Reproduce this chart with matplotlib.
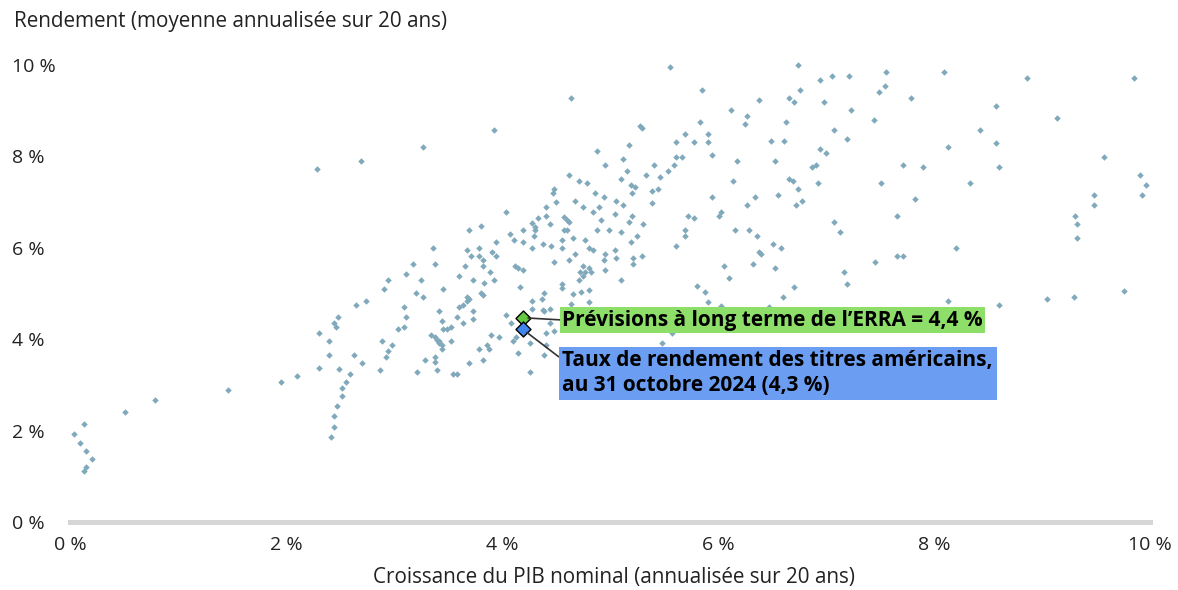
import matplotlib
matplotlib.use("Agg")
import matplotlib.pyplot as plt

plt.rcParams['font.family'] = ['Open Sans', 'DejaVu Sans']

# nominal GDP growth (20y annualised, %) and returns (20y annualised, %)
gdp_growth = [
    0.04, 0.13, 0.09, 0.15, 0.20, 0.15, 0.13, 0.51, 0.79, 1.46,
    1.95, 2.10, 2.42, 2.44, 2.44, 2.47, 2.52, 2.52, 2.56, 2.59,
    2.49, 2.31, 2.31, 2.40, 2.40, 2.44, 2.46, 2.48, 2.65, 2.74,
    2.63, 2.70, 2.87, 2.93, 2.94, 2.98, 2.89, 3.04, 3.09, 3.11,
    3.09, 3.21, 3.29, 3.38, 3.38, 3.40, 3.55, 3.58, 3.69, 3.82,
    3.79, 3.88, 3.86, 3.90, 3.97, 4.04, 3.53, 3.44, 3.42, 3.34,
    3.38, 3.40, 3.42, 3.44, 3.45, 3.49, 3.53, 3.44, 3.42, 3.58,
    3.64, 3.60, 3.64, 3.73, 3.73, 3.68, 4.10, 4.13, 4.08, 4.15,
    4.26, 4.26, 4.39, 4.41, 4.28, 4.38, 4.48, 4.44, 4.41, 4.39,
    4.44, 3.27, 2.69, 2.29, 4.48, 4.47, 4.50, 4.41, 4.04, 4.41,
    4.33, 4.28, 4.31, 4.44, 3.69, 3.81, 4.07, 4.19, 4.31, 4.30,
    4.11, 4.19, 3.94, 4.38, 4.45, 4.28, 3.36, 3.68, 3.79, 3.71,
    3.79, 3.91, 3.94, 3.82, 4.48, 3.38, 3.18, 3.66, 3.82, 4.12,
    4.15, 4.19, 3.89, 3.11, 3.60, 3.73, 3.83, 3.93, 2.94, 3.25,
    2.91, 3.45, 4.17, 3.20, 3.27, 3.81, 3.82, 3.68, 3.69, 4.39,
    4.37, 4.28, 5.56, 5.85, 4.64, 3.93, 6.12, 6.27, 6.25, 5.83,
    5.28, 5.30, 5.69, 5.91, 5.61, 5.78, 5.91, 5.18, 4.88, 5.94,
    5.61, 5.67, 5.12, 6.18, 4.95, 5.41, 5.59, 5.16, 5.54, 4.62,
    5.33, 5.46, 5.10, 4.71, 4.79, 6.14, 5.19, 5.23, 5.39, 5.44,
    5.20, 4.86, 4.94, 5.94, 4.68, 5.06, 5.12, 5.39, 6.27, 4.75,
    4.90, 4.84, 5.05, 5.20, 5.72, 5.78, 6.03, 6.01, 4.57, 4.60,
    4.62, 4.92, 5.18, 5.31, 4.57, 4.60, 4.88, 4.99, 5.10, 5.69,
    5.69, 6.16, 6.29, 4.66, 5.25, 4.56, 4.77, 5.19, 4.56, 4.81,
    4.84, 5.05, 5.61, 4.68, 4.62, 4.95, 4.94, 5.06, 5.21, 5.30,
    5.21, 4.75, 4.77, 4.81, 4.72, 4.75, 4.82, 4.95, 6.06, 6.10,
    5.10, 4.71, 4.56, 4.56, 4.66, 4.73, 4.81, 4.64, 4.81, 5.81,
    5.88, 5.91, 6.03, 5.57, 5.48, 6.74, 6.94, 7.06, 7.21, 7.56,
    8.09, 8.86, 9.85, 7.55, 7.49, 6.76, 6.38, 6.66, 6.70, 6.98,
    7.79, 7.23, 8.57, 6.63, 7.44, 9.14, 7.07, 8.43, 6.49, 6.61,
    7.19, 8.57, 8.13, 6.94, 7.00, 6.53, 6.87, 6.91, 7.71, 7.90,
    8.60, 9.57, 6.66, 6.69, 6.93, 7.51, 8.33, 6.74, 9.91, 9.96,
    9.93, 6.34, 6.56, 6.78, 6.72, 7.82, 9.48, 9.48, 7.66, 7.07,
    7.13, 9.31, 9.32, 9.32, 6.36, 6.51, 6.58, 6.38, 6.40, 8.20,
    6.32, 6.53, 7.45, 7.66, 7.71, 7.17, 7.19, 6.70, 6.60, 6.47,
    8.13, 8.60, 9.05, 9.30, 9.76, 8.23, 7.38,
]
returns = [
    1.93, 2.14, 1.73, 1.55, 1.38, 1.20, 1.12, 2.41, 2.67, 2.89,
    3.06, 3.19, 1.86, 2.08, 2.32, 2.54, 2.76, 2.93, 3.06, 3.24,
    3.35, 3.37, 4.14, 3.96, 3.65, 4.35, 4.27, 4.49, 4.75, 4.84,
    3.65, 3.48, 3.33, 3.61, 3.74, 3.87, 3.96, 4.22, 4.27, 4.49,
    4.70, 3.28, 3.54, 3.61, 3.50, 3.33, 3.24, 3.24, 3.48, 3.54,
    3.79, 3.79, 3.87, 4.09, 4.05, 4.53, 3.96, 3.79, 3.96, 4.09,
    4.05, 3.98, 3.92, 3.87, 4.22, 4.22, 4.27, 4.40, 4.62, 4.49,
    4.35, 4.70, 4.75, 4.62, 4.44, 4.84, 3.96, 4.05, 4.35, 3.70,
    3.28, 3.92, 3.65, 4.14, 4.66, 4.64, 4.18, 4.35, 3.87, 4.62,
    4.66, 8.21, 7.90, 7.72, 7.29, 7.20, 7.00, 6.89, 6.78, 6.70,
    6.65, 6.54, 6.45, 6.52, 6.39, 6.48, 6.30, 6.39, 6.39, 6.26,
    6.17, 6.13, 6.13, 6.08, 6.04, 6.00, 6.00, 5.95, 6.00, 5.82,
    5.82, 5.91, 5.82, 5.73, 5.69, 5.65, 5.65, 5.60, 5.60, 5.60,
    5.56, 5.51, 5.47, 5.43, 5.38, 5.29, 5.23, 5.29, 5.29, 5.29,
    5.10, 5.10, 5.14, 5.01, 4.92, 5.01, 4.97, 4.92, 4.88, 5.01,
    4.88, 4.84, 9.96, 9.45, 9.28, 8.58, 9.01, 8.88, 8.71, 8.75,
    8.66, 8.62, 8.49, 8.49, 8.31, 8.31, 8.31, 8.25, 8.12, 8.03,
    7.99, 7.99, 7.94, 7.90, 7.81, 7.81, 7.81, 7.68, 7.68, 7.59,
    7.59, 7.55, 7.50, 7.46, 7.42, 7.46, 7.37, 7.33, 7.24, 7.29,
    7.20, 7.20, 7.11, 7.11, 7.02, 7.02, 6.94, 6.98, 6.94, 6.89,
    6.89, 6.78, 6.74, 6.70, 6.70, 6.65, 6.78, 6.70, 6.67, 6.61,
    6.56, 6.61, 6.56, 6.52, 6.39, 6.39, 6.39, 6.39, 6.35, 6.39,
    6.26, 6.39, 6.39, 6.21, 6.26, 6.17, 6.17, 6.13, 6.00, 6.00,
    5.95, 5.95, 6.04, 5.86, 5.73, 5.86, 5.73, 5.78, 5.78, 5.82,
    5.65, 5.60, 5.47, 5.56, 5.47, 5.38, 5.47, 5.51, 5.60, 5.34,
    5.29, 5.29, 5.21, 5.12, 4.99, 5.03, 5.08, 4.77, 4.81, 5.16,
    5.03, 4.81, 4.73, 4.14, 3.92, 10.0, 9.67, 9.76, 9.76, 9.85,
    9.85, 9.71, 9.71, 9.54, 9.41, 9.45, 9.23, 9.28, 9.19, 9.19,
    9.28, 9.01, 9.10, 8.75, 8.80, 8.84, 8.58, 8.58, 8.34, 8.34,
    8.38, 8.29, 8.21, 8.16, 8.07, 7.90, 7.77, 7.81, 7.81, 7.77,
    7.77, 7.99, 7.50, 7.46, 7.42, 7.42, 7.42, 7.29, 7.59, 7.37,
    7.15, 7.11, 7.15, 7.02, 6.94, 7.07, 7.15, 6.94, 6.70, 6.56,
    6.35, 6.70, 6.52, 6.21, 6.26, 6.08, 6.00, 5.91, 5.86, 6.00,
    5.65, 5.56, 5.69, 5.82, 5.82, 5.47, 5.21, 5.14, 4.92, 4.70,
    4.84, 4.75, 4.88, 4.92, 5.05, 4.64, 4.24,
]

# highlighted points
erra_point = (4.19, 4.47)
us_point = (4.19, 4.22)
erra_label = "Prévisions à long terme de l’ERRA = 4,4 %"
us_label = "Taux de rendement des titres américains,\nau 31 octobre 2024 (4,3 %)"

ticks = [0, 2, 4, 6, 8, 10]
tick_labels = ["0 %", "2 %", "4 %", "6 %", "8 %", "10 %"]

fig = plt.figure(figsize=(11.78, 5.90), dpi=100)
ax = fig.add_axes([70 / 1178, 68 / 590, 1080 / 1178, 457 / 590])

ax.scatter(gdp_growth, returns, marker='D', s=11, color='#80a9bc',
           linewidths=0, clip_on=False, zorder=2)
ax.scatter(*erra_point, marker='D', s=58, color='#66c840',
           edgecolors='black', linewidths=1, zorder=4)
ax.scatter(*us_point, marker='D', s=58, color='#3f86ee',
           edgecolors='black', linewidths=1, zorder=4)

ax.set_xlim(0, 10)
ax.set_ylim(0, 10)
for side in ['top', 'right', 'left']:
    ax.spines[side].set_visible(False)
ax.spines['bottom'].set_color('#d6d6d6')
ax.spines['bottom'].set_linewidth(3.6)

ax.set_xticks(ticks, tick_labels)
ax.set_yticks(ticks, tick_labels)
ax.tick_params(length=0, labelsize=14, labelcolor='#222222')
ax.tick_params(axis='x', pad=10)
ax.tick_params(axis='y', pad=42)
for lbl in ax.get_yticklabels():
    lbl.set_horizontalalignment('left')

# callouts
ax.annotate(erra_label, xy=erra_point, xytext=(4.56, 4.42),
            ha='left', va='center', fontsize=15, fontweight='bold',
            color='black', zorder=5,
            bbox=dict(boxstyle='square,pad=0.1', fc='#8ede6a', ec='none'),
            arrowprops=dict(arrowstyle='-', color='#333333', lw=1.2,
                            relpos=(0, 0.5), shrinkA=0, shrinkB=4))
ax.annotate(us_label, xy=us_point, xytext=(4.56, 3.25),
            ha='left', va='center', fontsize=15, fontweight='bold',
            color='black', zorder=5, linespacing=1.25,
            bbox=dict(boxstyle='square,pad=0.18', fc='#6b9ef2', ec='none'),
            arrowprops=dict(arrowstyle='-', color='#333333', lw=1.2,
                            relpos=(0, 0.8), shrinkA=0, shrinkB=4))

fig.text(14 / 1178, 1 - 22 / 590, "Rendement (moyenne annualisée sur 20 ans)",
         ha='left', va='center', fontsize=14.9, color='#222222')
fig.text(614 / 1178, 1 - 578 / 590,
         "Croissance du PIB nominal (annualisée sur 20 ans)",
         ha='center', va='center', fontsize=14.9, color='#222222')

fig.savefig("out.png", dpi=100)
